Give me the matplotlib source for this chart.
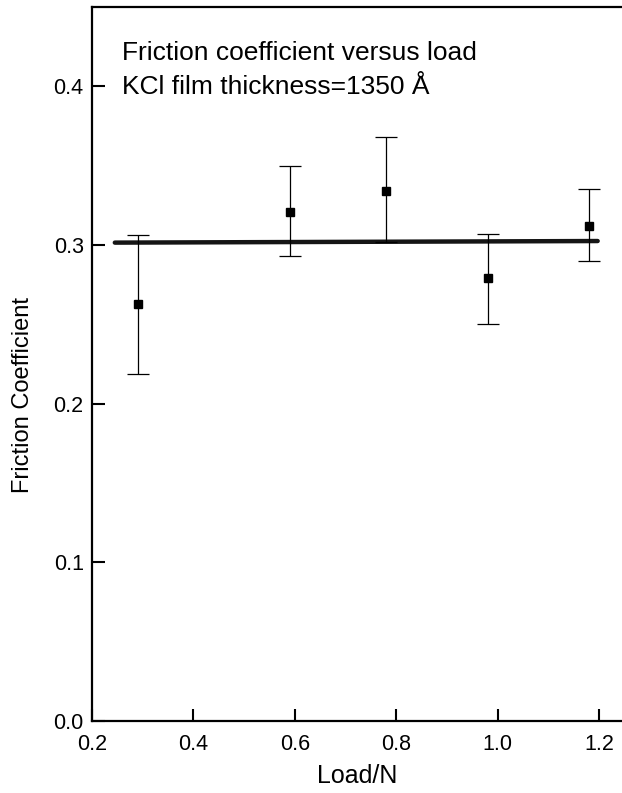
import matplotlib
matplotlib.use('Agg')
import matplotlib.pyplot as plt

# data
load = [0.29, 0.59, 0.78, 0.98, 1.18]
friction = [0.263, 0.321, 0.334, 0.279, 0.312]
err_low = [0.219, 0.293, 0.302, 0.250, 0.290]
err_high = [0.306, 0.350, 0.368, 0.307, 0.335]
fit_x = [0.245, 1.197]
fit_y = [0.3015, 0.3025]
x_ticks = [0.2, 0.4, 0.6, 0.8, 1.0, 1.2]
y_ticks = [0.0, 0.1, 0.2, 0.3, 0.4]

plt.rcParams.update({
    'font.family': ['Liberation Sans', 'DejaVu Sans'],
    'font.size': 15,
})

W, H = 622, 793
fig = plt.figure(figsize=(W / 100, H / 100), dpi=100)
ax = fig.add_axes([92 / W, 1 - 721 / H, 1 - 92 / W, (721 - 7) / H])

yerr = [[f - lo for f, lo in zip(friction, err_low)],
        [hi - f for f, hi in zip(friction, err_high)]]
ax.plot(fit_x, fit_y, color='#151515', lw=3.2, solid_capstyle='round', zorder=2)
ax.errorbar(load, friction, yerr=yerr, fmt='s', color='black', ms=5.5,
            ecolor='black', elinewidth=0.9, capsize=8, capthick=0.9, zorder=3)

ax.set_xlim(0.2, 1.245)
ax.set_ylim(0, 0.45)
ax.set_xticks(x_ticks)
ax.set_yticks(y_ticks)
ax.set_xticklabels([f'{v:.1f}' for v in x_ticks])
ax.set_yticklabels([f'{v:.1f}' for v in y_ticks])
ax.tick_params(direction='in', length=9, width=1.5, labelsize=15.5,
               top=False, right=False)
ax.tick_params(axis='x', pad=9)
ax.tick_params(axis='y', pad=6)
ax.spines['right'].set_visible(False)
for s in ('left', 'bottom', 'top'):
    ax.spines[s].set_linewidth(1.6)

ax.set_xlabel('Load/N', fontsize=18, labelpad=7)
ax.set_ylabel('Friction Coefficient', fontsize=17)
# label sits a bit below the axis centre in the reference
ax.yaxis.set_label_coords(-(92 - 34) / (W - 92), (721 - 395) / (721 - 7))

ax.text(0.259, 0.4164, 'Friction coefficient versus load', fontsize=19,
        va='baseline', ha='left')
ax.text(0.259, 0.3950, 'KCl film thickness=1350 Å', fontsize=19,
        va='baseline', ha='left')

fig.savefig('out.png', dpi=100)
plt.close(fig)
